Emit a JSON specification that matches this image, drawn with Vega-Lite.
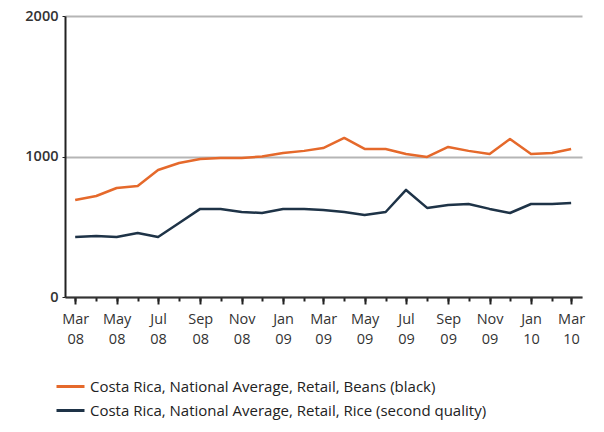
{
  "$schema": "https://vega.github.io/schema/vega-lite/v6.json",
  "autosize": {"type": "none"},
  "width": 517,
  "height": 281,
  "padding": {"left": 65, "top": 16, "right": 22, "bottom": 135},
  "background": "white",
  "config": {
    "view": {"stroke": null},
    "font": "Open Sans"
  },
  "data": {
    "values": [
      {"date": "2008-03-01", "series": "Costa Rica, National Average, Retail, Beans (black)", "value": 690},
      {"date": "2008-04-01", "series": "Costa Rica, National Average, Retail, Beans (black)", "value": 719},
      {"date": "2008-05-01", "series": "Costa Rica, National Average, Retail, Beans (black)", "value": 776},
      {"date": "2008-06-01", "series": "Costa Rica, National Average, Retail, Beans (black)", "value": 790},
      {"date": "2008-07-01", "series": "Costa Rica, National Average, Retail, Beans (black)", "value": 904},
      {"date": "2008-08-01", "series": "Costa Rica, National Average, Retail, Beans (black)", "value": 954},
      {"date": "2008-09-01", "series": "Costa Rica, National Average, Retail, Beans (black)", "value": 982},
      {"date": "2008-10-01", "series": "Costa Rica, National Average, Retail, Beans (black)", "value": 990},
      {"date": "2008-11-01", "series": "Costa Rica, National Average, Retail, Beans (black)", "value": 990},
      {"date": "2008-12-01", "series": "Costa Rica, National Average, Retail, Beans (black)", "value": 1000},
      {"date": "2009-01-01", "series": "Costa Rica, National Average, Retail, Beans (black)", "value": 1025},
      {"date": "2009-02-01", "series": "Costa Rica, National Average, Retail, Beans (black)", "value": 1040},
      {"date": "2009-03-01", "series": "Costa Rica, National Average, Retail, Beans (black)", "value": 1060},
      {"date": "2009-04-01", "series": "Costa Rica, National Average, Retail, Beans (black)", "value": 1132},
      {"date": "2009-05-01", "series": "Costa Rica, National Average, Retail, Beans (black)", "value": 1054},
      {"date": "2009-06-01", "series": "Costa Rica, National Average, Retail, Beans (black)", "value": 1054},
      {"date": "2009-07-01", "series": "Costa Rica, National Average, Retail, Beans (black)", "value": 1018},
      {"date": "2009-08-01", "series": "Costa Rica, National Average, Retail, Beans (black)", "value": 997},
      {"date": "2009-09-01", "series": "Costa Rica, National Average, Retail, Beans (black)", "value": 1068},
      {"date": "2009-10-01", "series": "Costa Rica, National Average, Retail, Beans (black)", "value": 1040},
      {"date": "2009-11-01", "series": "Costa Rica, National Average, Retail, Beans (black)", "value": 1018},
      {"date": "2009-12-01", "series": "Costa Rica, National Average, Retail, Beans (black)", "value": 1125},
      {"date": "2010-01-01", "series": "Costa Rica, National Average, Retail, Beans (black)", "value": 1018},
      {"date": "2010-02-01", "series": "Costa Rica, National Average, Retail, Beans (black)", "value": 1025},
      {"date": "2010-03-01", "series": "Costa Rica, National Average, Retail, Beans (black)", "value": 1054},
      {"date": "2008-03-01", "series": "Costa Rica, National Average, Retail, Rice (second quality)", "value": 427},
      {"date": "2008-04-01", "series": "Costa Rica, National Average, Retail, Rice (second quality)", "value": 434},
      {"date": "2008-05-01", "series": "Costa Rica, National Average, Retail, Rice (second quality)", "value": 427},
      {"date": "2008-06-01", "series": "Costa Rica, National Average, Retail, Rice (second quality)", "value": 456},
      {"date": "2008-07-01", "series": "Costa Rica, National Average, Retail, Rice (second quality)", "value": 427},
      {"date": "2008-08-01", "series": "Costa Rica, National Average, Retail, Rice (second quality)", "value": 527},
      {"date": "2008-09-01", "series": "Costa Rica, National Average, Retail, Rice (second quality)", "value": 627},
      {"date": "2008-10-01", "series": "Costa Rica, National Average, Retail, Rice (second quality)", "value": 627},
      {"date": "2008-11-01", "series": "Costa Rica, National Average, Retail, Rice (second quality)", "value": 605},
      {"date": "2008-12-01", "series": "Costa Rica, National Average, Retail, Rice (second quality)", "value": 598},
      {"date": "2009-01-01", "series": "Costa Rica, National Average, Retail, Rice (second quality)", "value": 627},
      {"date": "2009-02-01", "series": "Costa Rica, National Average, Retail, Rice (second quality)", "value": 627},
      {"date": "2009-03-01", "series": "Costa Rica, National Average, Retail, Rice (second quality)", "value": 620},
      {"date": "2009-04-01", "series": "Costa Rica, National Average, Retail, Rice (second quality)", "value": 605},
      {"date": "2009-05-01", "series": "Costa Rica, National Average, Retail, Rice (second quality)", "value": 584},
      {"date": "2009-06-01", "series": "Costa Rica, National Average, Retail, Rice (second quality)", "value": 605},
      {"date": "2009-07-01", "series": "Costa Rica, National Average, Retail, Rice (second quality)", "value": 762},
      {"date": "2009-08-01", "series": "Costa Rica, National Average, Retail, Rice (second quality)", "value": 634},
      {"date": "2009-09-01", "series": "Costa Rica, National Average, Retail, Rice (second quality)", "value": 655},
      {"date": "2009-10-01", "series": "Costa Rica, National Average, Retail, Rice (second quality)", "value": 662},
      {"date": "2009-11-01", "series": "Costa Rica, National Average, Retail, Rice (second quality)", "value": 627},
      {"date": "2009-12-01", "series": "Costa Rica, National Average, Retail, Rice (second quality)", "value": 598},
      {"date": "2010-01-01", "series": "Costa Rica, National Average, Retail, Rice (second quality)", "value": 662},
      {"date": "2010-02-01", "series": "Costa Rica, National Average, Retail, Rice (second quality)", "value": 662},
      {"date": "2010-03-01", "series": "Costa Rica, National Average, Retail, Rice (second quality)", "value": 669}
    ]
  },
  "layer": [
    {
      "mark": {"type": "line", "strokeWidth": 2.5, "strokeJoin": "round"},
      "encoding": {
        "x": {
          "field": "date",
          "type": "temporal",
          "scale": {"type": "utc", "domain": ["2008-02-15", "2010-03-17"]},
          "axis": {
            "orient": "bottom",
            "tickCount": {"interval": "month", "step": 1},
            "labels": false,
            "grid": false,
            "domain": false,
            "tickSize": 4,
            "tickWidth": 2,
            "tickColor": "#222",
            "title": null
          }
        },
        "y": {
          "field": "value",
          "type": "quantitative",
          "scale": {"domain": [0, 2000], "nice": false},
          "axis": {
            "values": [0, 1000, 2000],
            "format": "d",
            "grid": true,
            "gridColor": "#b5b5b5",
            "gridWidth": 2,
            "domainColor": "#222",
            "domainWidth": 2,
            "tickSize": 3,
            "tickColor": "#222",
            "tickWidth": 1,
            "labelFontSize": 14.5,
            "labelColor": "#333",
            "labelFontWeight": 600,
            "labelPadding": 4,
            "title": null
          }
        },
        "color": {
          "field": "series",
          "type": "nominal",
          "scale": {
            "domain": ["Costa Rica, National Average, Retail, Beans (black)", "Costa Rica, National Average, Retail, Rice (second quality)"],
            "range": ["#e5692b", "#1e3347"]
          },
          "legend": {
            "orient": "none",
            "legendX": -10,
            "legendY": 355,
            "direction": "vertical",
            "title": null,
            "padding": 0,
            "symbolType": "stroke",
            "symbolSize": 784,
            "symbolStrokeWidth": 3,
            "labelFontSize": 15,
            "labelColor": "#222",
            "labelLimit": 600,
            "labelOffset": 4,
            "rowPadding": -3
          }
        }
      }
    },
    {
      "mark": {"type": "line", "opacity": 0},
      "encoding": {
        "x": {
          "field": "date",
          "type": "temporal",
          "axis": {
            "orient": "bottom",
            "tickCount": {"interval": "month", "step": 2},
            "labelExpr": "[utcFormat(datum.value, '%b'), utcFormat(datum.value, '%y')]",
            "labelFontSize": 14.5,
            "labelColor": "#333",
            "labelLineHeight": 20,
            "labelPadding": 8,
            "labelFlush": false,
            "labelOverlap": false,
            "grid": false,
            "domainColor": "#333",
            "domainWidth": 2,
            "tickSize": 7,
            "tickWidth": 2,
            "tickColor": "#222",
            "title": null
          }
        },
        "y": {"field": "value", "type": "quantitative"},
        "detail": {"field": "series"}
      }
    }
  ],
  "resolve": {"axis": {"x": "independent"}}
}
